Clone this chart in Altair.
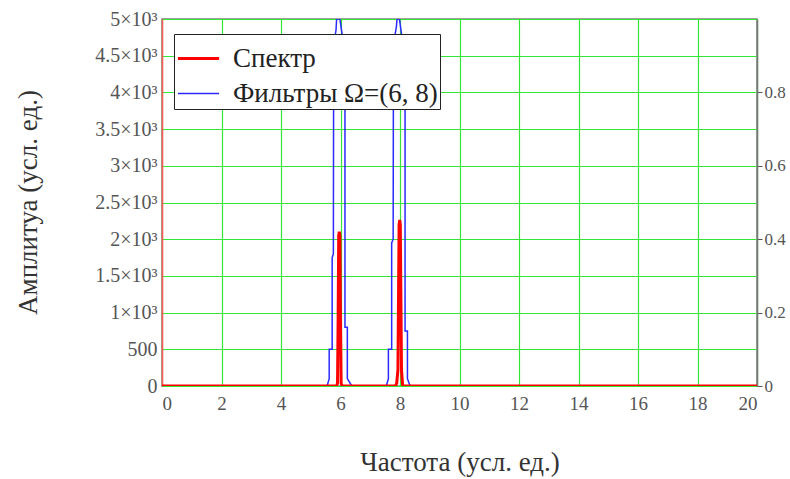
import altair as alt
import pandas as pd

# Data
spec_f = [0, 5.87, 5.90, 5.92, 5.94, 5.96, 5.98, 6.00, 6.02, 6.05,
          7.85, 7.89, 7.93, 7.95, 7.97, 7.99, 8.01, 8.03, 8.05, 8.09, 20]
spec_a = [0, 0, 40, 900, 2050, 2100, 2050, 900, 40, 0,
          0, 40, 220, 1200, 2200, 2262, 2200, 1200, 220, 0, 0]

filt_f = [0, 5.55, 5.62, 5.62, 5.72, 5.72, 5.76, 5.77, 5.85, 5.87, 5.98, 6.05, 6.15,
          6.15, 6.23, 6.23, 6.38,
          7.54, 7.61, 7.61, 7.72, 7.72, 7.77, 7.78, 7.88, 7.90, 7.98, 8.05, 8.17,
          8.17, 8.25, 8.25, 8.34, 20]
filt_v = [0, 0, 0.02, 0.10, 0.10, 0.35, 0.36, 0.93, 0.97, 1.0, 1.0, 0.96, 0.88,
          0.16, 0.16, 0.02, 0.0,
          0, 0.02, 0.10, 0.10, 0.39, 0.40, 0.93, 0.98, 1.0, 1.0, 0.96, 0.85,
          0.15, 0.15, 0.02, 0.0, 0]

series_names = ["Спектр", "Фильтры Ω=(6, 8)"]
series_colors = ["#ff0000", "#2b2bff"]
series_widths = [3, 1.5]

x_ticks = [0, 2, 4, 6, 8, 10, 12, 14, 16, 18, 20]
y_ticks = [0, 500, 1000, 1500, 2000, 2500, 3000, 3500, 4000, 4500, 5000]
y2_ticks = [0, 0.2, 0.4, 0.6, 0.8]

spec_df = pd.DataFrame({"f": spec_f, "v": spec_a, "series": series_names[0]})
filt_df = pd.DataFrame({"f": filt_f, "v": filt_v, "series": series_names[1]})

FONT = "Liberation Serif"
GRID = "#33e633"

color = alt.Color("series:N", scale=alt.Scale(domain=series_names, range=series_colors),
                  legend=alt.Legend(title=None, orient="none", legendX=12, legendY=15,
                                    symbolType="stroke", symbolSize=1700,
                                    labelFont=FONT, labelFontSize=27, labelColor="#222",
                                    fillColor="white", strokeColor="#222", padding=2,
                                    rowPadding=0, labelOffset=12, labelLimit=400))
swidth = alt.StrokeWidth("series:N", scale=alt.Scale(domain=series_names, range=series_widths),
                         legend=None)

x_enc = alt.X("f:Q", scale=alt.Scale(domain=[0, 20], nice=False),
              axis=alt.Axis(values=x_ticks, title="Частота (усл. ед.)", grid=True,
                            gridColor=GRID, gridWidth=1.2, ticks=False, domain=False,
                            labelFont=FONT, labelFontSize=19, labelColor="#555",
                            labelPadding=8, titleFont=FONT, titleFontSize=27,
                            titleFontWeight="normal", titleColor="#333",
                            titleY=76, titleBaseline="middle"))

filt = alt.Chart(filt_df).mark_line(clip=True).encode(
    x=x_enc,
    y=alt.Y("v:Q", scale=alt.Scale(domain=[0, 1], nice=False),
            axis=alt.Axis(orient="right", values=y2_ticks, grid=False, title=None,
                          domainColor="#777", domainWidth=1.5, tickColor="#555",
                          tickSize=5, labelFont=FONT, labelFontSize=17,
                          labelExpr="datum.value == 0 ? '0' : format(datum.value, '.1f')",
                          labelColor="#555", labelPadding=2)),
    color=color,
    strokeWidth=swidth,
)

spec = alt.Chart(spec_df).mark_line(clip=True).encode(
    x=x_enc,
    y=alt.Y("v:Q", scale=alt.Scale(domain=[0, 5000], nice=False),
            axis=alt.Axis(orient="left", values=y_ticks, grid=True, gridColor=GRID,
                          gridWidth=1.2, ticks=False, domainColor="#ff5a5a",
                          domainWidth=1.5, title="Амплитуа (усл. ед.)",
                          labelExpr="datum.value < 1000 ? datum.value + '' : (datum.value/1000) + '×10³'",
                          labelFont=FONT, labelFontSize=20, labelColor="#555",
                          labelPadding=5, titleFont=FONT, titleFontSize=27,
                          titleFontWeight="normal", titleColor="#333",
                          titleX=-134, titleY=183, titleAngle=270,
                          titleBaseline="middle", titleAlign="center")),
    color=color,
    strokeWidth=swidth,
)

chart = alt.layer(filt, spec).resolve_scale(y="independent").properties(
    width=595, height=367,
    autosize=alt.AutoSizeParams(type="none"),
    padding={"left": 162, "top": 19, "right": 33, "bottom": 93},
    background="white",
).configure(font=FONT).configure_axis(labelFont=FONT, titleFont=FONT).configure_legend(
    labelFont=FONT
).configure_view(stroke="#808080", strokeWidth=1.5)

chart.save("out.html", embed_options={"renderer": "svg", "actions": False})
